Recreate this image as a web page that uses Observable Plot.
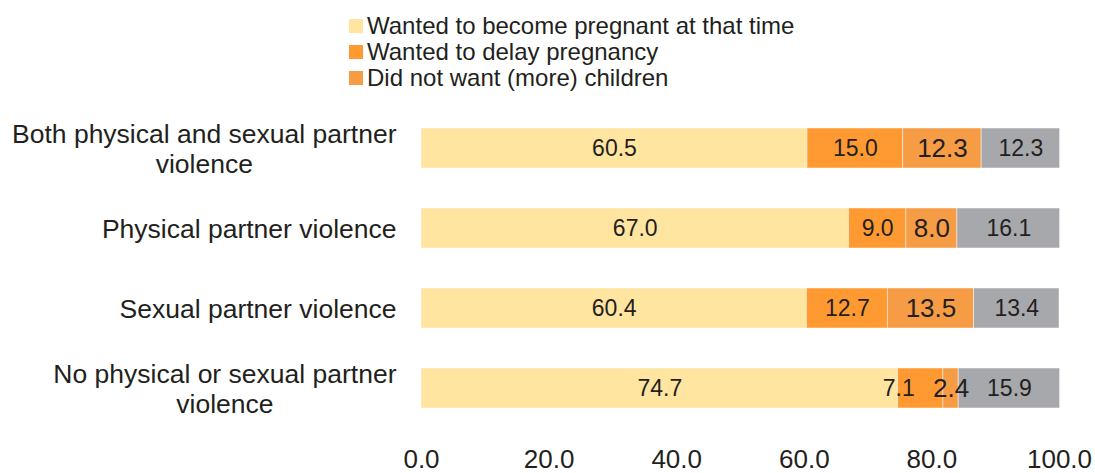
<!DOCTYPE html>
<html><head><meta charset="utf-8">
<script src="https://cdn.jsdelivr.net/npm/d3@7"></script>
<script src="https://cdn.jsdelivr.net/npm/@observablehq/plot@0.6"></script>
<style>
body{margin:0;background:#fff;font-family:"Liberation Sans",Arial,sans-serif;color:#231F20}
#legend{height:100px;box-sizing:border-box;padding:13px 0 0 349px;font-size:24px;line-height:26px}
.item{display:flex;align-items:center;height:26px;white-space:nowrap}
.sw{width:14px;height:14px;margin-right:4px;flex:none}
</style></head><body>
<div id="legend"></div><div id="chart"></div>
<script>
const categories = ["Both physical and sexual partner\nviolence", "Physical partner violence", "Sexual partner violence", "No physical or sexual partner\nviolence"];
const series = ["Wanted to become pregnant at that time", "Wanted to delay pregnancy", "Did not want (more) children", "Other"];
const legendSeries = series.slice(0, 3);
const wanted = [60.5, 67.0, 60.4, 74.7];
const delay = [15.0, 9.0, 12.7, 7.1];
const noMore = [12.3, 8.0, 13.5, 2.4];
const other = [12.3, 16.1, 13.4, 15.9];
const colors = ["#FFE5A0", "#FF9A32", "#F69C45", "#A7A8AB"];
const xTicks = [0, 20, 40, 60, 80, 100];

const data = [];
categories.forEach((c, i) => {
  [wanted, delay, noMore, other].forEach((arr, j) => data.push({category: c, series: series[j], value: arr[i]}));
});

// legend
const lg = document.getElementById("legend");
legendSeries.forEach((s, i) => {
  const it = document.createElement("div"); it.className = "item";
  const sw = document.createElement("span"); sw.className = "sw"; sw.style.background = colors[i];
  const tx = document.createElement("span"); tx.textContent = s;
  it.appendChild(sw); it.appendChild(tx); lg.appendChild(it);
});

// the small "7.1" label sits left of its segment centre in the reference
const shifted = d => d.category === categories[3] && d.series === series[1];
const labelOpts = {x: "value", y: "category", z: "series", text: d => d.value.toFixed(1),
  fontSize: d => d.series === series[2] ? 26 : 23, fill: "#231F20"};

const plot = Plot.plot({
  width: 1095, height: 373,
  marginLeft: 421, marginRight: 36, marginTop: 8, marginBottom: 45,
  style: {fontFamily: "'Liberation Sans', Arial, sans-serif", color: "#231F20", background: "#fff", overflow: "visible"},
  x: {domain: [0, 100], label: null},
  y: {domain: categories, paddingInner: 0.5, paddingOuter: 0.25, label: null},
  color: {domain: series, range: colors},
  marks: [
    Plot.barX(data, Plot.stackX({x: "value", y: "category", z: "series", fill: "series", stroke: "#fff", strokeWidth: 0.8, strokeOpacity: 0.6})),
    Plot.textX(data, Plot.filter(d => !shifted(d), Plot.stackX(labelOpts))),
    Plot.textX(data, Plot.filter(shifted, Plot.stackX({...labelOpts, dx: -22}))),
    Plot.axisX({ticks: xTicks, tickFormat: d => d.toFixed(1), tickSize: 0, tickPadding: 21, fontSize: 26, label: null, fill: "#231F20"}),
    Plot.axisY({tickSize: 0, tickPadding: 25, fontSize: 26.5, lineHeight: 1.13, label: null, fill: "#231F20"})
  ]
});
document.getElementById("chart").appendChild(plot);

// center the wrapped lines of multi-line category labels under their first line
plot.querySelectorAll("text").forEach(t => {
  const ts = t.querySelectorAll("tspan");
  if (ts.length > 1) {
    let w = 0;
    ts.forEach(s => { w = Math.max(w, s.getComputedTextLength()); });
    t.setAttribute("text-anchor", "middle");
    ts.forEach(s => s.setAttribute("x", -w / 2));
  }
});
</script>
</body></html>
